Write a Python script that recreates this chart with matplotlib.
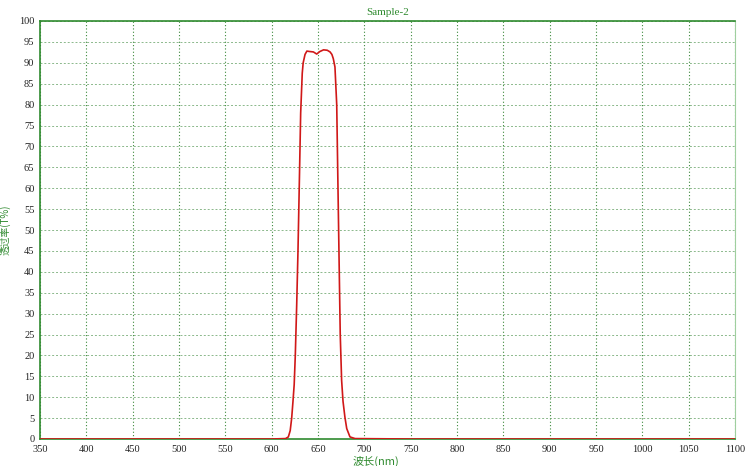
import matplotlib
matplotlib.use('Agg')
import matplotlib.pyplot as plt

# Curva di trasmissione
wavelength = [350, 600, 615, 618, 620, 621.6, 623, 624.3, 625.5, 627, 628.4, 630, 631.3,
              633, 634, 636, 638, 641, 645, 648.6, 652, 656, 660, 663, 665,
              666.5, 668.3, 670.2, 672.6, 674, 675.5, 677, 679, 681, 684.5,
              690, 750, 1100]
transmittance = [0, 0, 0.1, 0.5, 2, 5, 9, 13, 20, 32, 45, 63, 78,
                 87.5, 90, 92, 92.8, 92.7, 92.6, 92.1, 92.7, 93.1, 93.0, 92.6, 92,
                 91, 89, 80, 45, 25, 14, 9, 5.3, 2.5, 0.5,
                 0.1, 0, 0]
xticks = list(range(350, 1101, 50))
yticks = list(range(0, 101, 5))

green = '#2f8a2f'
cjk = ['Noto Sans CJK SC', 'DejaVu Sans']

fig = plt.figure(figsize=(7.5, 4.66), dpi=100)
ax = fig.add_axes([40/750, 1-439/466, 695/750, 418/466])

ax.plot(wavelength, transmittance, color='#d01818', lw=1.2, zorder=3)

ax.set_xlim(350, 1100)
ax.set_ylim(0, 100)
ax.set_xticks(xticks)
ax.set_yticks(yticks)
ax.tick_params(length=0, labelsize=7.5, colors='#222222', pad=4)
for lab in ax.get_xticklabels() + ax.get_yticklabels():
    lab.set_family('Liberation Serif')

ax.grid(axis='x', color='#3d8a3d', ls=(0, (1, 2)), lw=0.8)
ax.grid(axis='y', color='#5a9a5a', ls=(0, (2, 2)), lw=0.7, alpha=0.7)

for s in ['left', 'top', 'bottom']:
    ax.spines[s].set_color(green)
    ax.spines[s].set_linewidth(1.2)
ax.spines['right'].set_color('#9fcf9f')

ax.set_title('Sample-2', color=green, fontsize=8, family='Liberation Serif', pad=4)
ax.set_xlabel('波长(nm)', color=green, fontsize=8, family=cjk)
ax.set_ylabel('透过率(T%)', color=green, fontsize=7, family=cjk)
ax.xaxis.set_label_coords((376-40)/695, -0.04)
ax.yaxis.set_label_coords(-0.043, 0.5)

plt.savefig('out.png', dpi=100)
